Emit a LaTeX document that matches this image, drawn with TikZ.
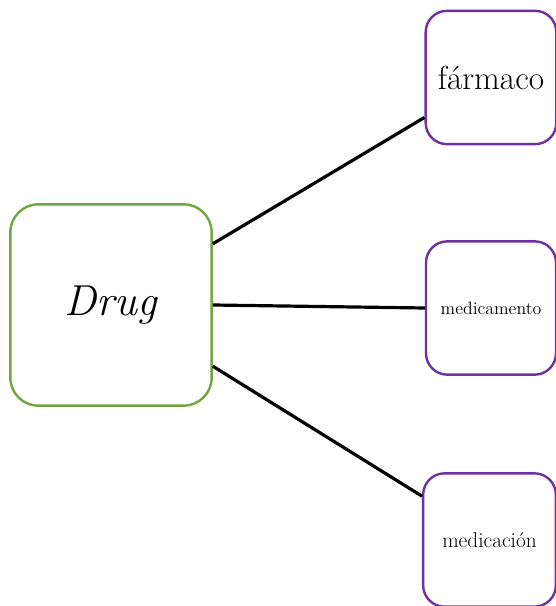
\documentclass[tikz,border=0pt]{standalone}
\usetikzlibrary{positioning}
\definecolor{drugGreen}{RGB}{112,165,66}
\definecolor{termPurple}{RGB}{112,48,160}
\tikzset{
  rootbox/.style={draw=drugGreen, line width=1.8pt, rounded corners=21pt, minimum width=151pt, minimum height=151pt, inner sep=0pt},
  termbox/.style={draw=termPurple, line width=1.8pt, rounded corners=16pt, minimum width=#1, minimum height=100pt, inner sep=0pt},
  link/.style={line width=2.4pt, black},
}

\begin{document}
\begin{tikzpicture}[x=0.75pt, y=-0.75pt]
    \useasboundingbox (0,0) rectangle (556,606);
    \node[rootbox] (drug) at (111,305) {\fontsize{32.5}{36}\selectfont\itshape Drug};
    \node[termbox=98pt] (farm) at (491,77.5) {\fontsize{25}{28}\selectfont fármaco};
    \node[termbox=97.5pt] (medto) at (491,308) {\fontsize{13.4}{16}\selectfont medicamento};
    \node[termbox=99.5pt] (medon) at (489.5,540) {\fontsize{16}{19}\selectfont medicación};
    \draw[link] (drug.31) -- (farm.211);
    \draw[link] (drug.east) -- (medto.west);
    \draw[link] (drug.-31) -- (medon.147);
  \end{tikzpicture}
\end{document}
